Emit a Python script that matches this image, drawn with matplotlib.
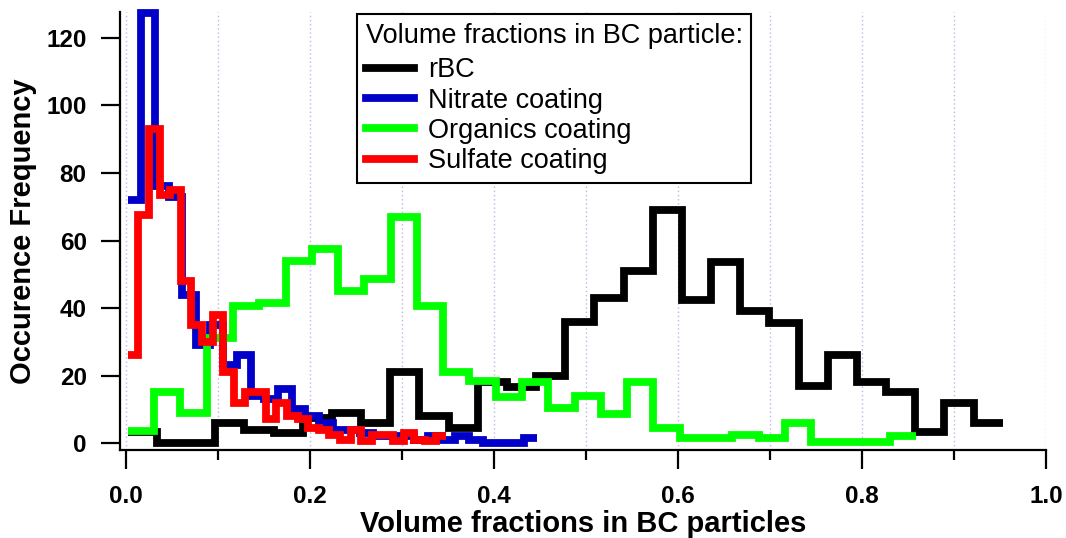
import matplotlib
matplotlib.use("Agg")
import matplotlib.pyplot as plt
import numpy as np
from matplotlib.lines import Line2D

plt.rcParams["font.family"] = ["Liberation Sans", "DejaVu Sans"]

# Bin counts; every trace uses 30 equal-width bins.
rbc_counts = [3.3, 0, 0, 6, 4, 3, 7.5, 9, 6, 21, 8, 4.5, 18, 16.5, 20,
              36, 43, 51, 69, 42.5, 53.5, 39, 35.5, 17, 26, 18, 15, 3.3, 12, 6]
nitrate_counts = [72, 127.5, 76, 73, 44, 29, 35, 23, 26, 14, 13, 16, 10, 8, 6,
                  4, 4, 3, 2, 2, 2, 1, 2, 1, 2, 1, 0, 0, 0, 1.5]
organics_counts = [3.5, 15, 9, 31, 40.5, 41.5, 54, 57.5, 45, 48.5, 67, 40.5, 21, 18.5, 13.5,
                   18, 10.5, 14, 8.5, 18, 4.5, 1.5, 1.5, 2.5, 1.5, 6, 0.3, 0.3, 0.3, 2]
sulfate_counts = [26, 67.5, 93, 73.5, 75, 48, 35, 30, 38, 21, 12, 15, 15, 7, 12,
                  8, 7, 4.5, 4, 2.5, 1, 4, 0.5, 2.5, 2.5, 0.5, 3, 1, 0.5, 2]

# first and last bin edge of each trace (volume fraction)
rbc_range = (0.002, 0.953)
nitrate_range = (0.002, 0.447)
organics_range = (0.002, 0.859)
sulfate_range = (0.002, 0.348)

labels = ["rBC", "Nitrate coating", "Organics coating", "Sulfate coating"]
colors = {"rBC": "#000000", "Nitrate coating": "#0000c8",
          "Organics coating": "#00ff00", "Sulfate coating": "#ff0000"}
data = {"rBC": (rbc_counts, rbc_range),
        "Nitrate coating": (nitrate_counts, nitrate_range),
        "Organics coating": (organics_counts, organics_range),
        "Sulfate coating": (sulfate_counts, sulfate_range)}
draw_order = ["rBC", "Nitrate coating", "Organics coating", "Sulfate coating"]

fig = plt.figure(figsize=(10.66, 5.38), dpi=100)
ax = fig.add_axes([120 / 1066, 1 - 450 / 538, 926 / 1066, 438 / 538])

for z, name in enumerate(draw_order):
    counts, (lo, hi) = data[name]
    edges = np.linspace(lo, hi, len(counts) + 1)
    ax.stairs(counts, edges, baseline=None, color=colors[name], lw=5.6,
              zorder=3 + z, clip_on=False)

ax.set_xlim(-0.0065, 1.0)
ax.set_ylim(-2.07, 127.7)

ax.set_xticks(np.arange(0, 1.01, 0.2))
ax.set_xticks(np.arange(0.1, 1.0, 0.2), minor=True)
ax.set_xticklabels([f"{v:.1f}" for v in np.arange(0, 1.01, 0.2)])
ax.set_yticks(range(0, 121, 20))
ax.grid(axis="x", which="both", color="#b8b8e8", linestyle=(0, (1, 2)), lw=1.0, zorder=1)

for side in ("top", "right"):
    ax.spines[side].set_visible(False)
for side in ("left", "bottom"):
    ax.spines[side].set_linewidth(1.6)

ax.tick_params(axis="both", which="major", direction="out", length=14, width=1.6,
               labelsize=17.5)
ax.tick_params(axis="x", which="minor", direction="out", length=7.5, width=1.6)
ax.tick_params(axis="x", which="major", pad=11)
ax.tick_params(axis="y", which="major", pad=10)
for lab in ax.get_xticklabels() + ax.get_yticklabels():
    lab.set_fontweight("bold")

ax.set_xlabel("Volume fractions in BC particles", fontsize=21, fontweight="bold", labelpad=2)
ax.set_ylabel("Occurence Frequency", fontsize=21, fontweight="bold", labelpad=7)

handles = [Line2D([], [], color=colors[n], lw=5.6) for n in labels]
leg = ax.legend(handles, labels, title="Volume fractions in BC particle:",
                loc="upper left", bbox_to_anchor=(357 / 1066, 1 - 14 / 538),
                bbox_transform=fig.transFigure, fontsize=19.5, title_fontsize=19.5,
                alignment="left", frameon=True, fancybox=False, edgecolor="black",
                framealpha=1, borderpad=0.32, labelspacing=0.155, handlelength=1.77,
                handletextpad=0.52, borderaxespad=0)
# a little more room between the title and the first entry
leg._legend_box.sep = 6.3
leg.get_frame().set_linewidth(1.5)
leg.set_zorder(10)

fig.savefig("out.png", dpi=100)
